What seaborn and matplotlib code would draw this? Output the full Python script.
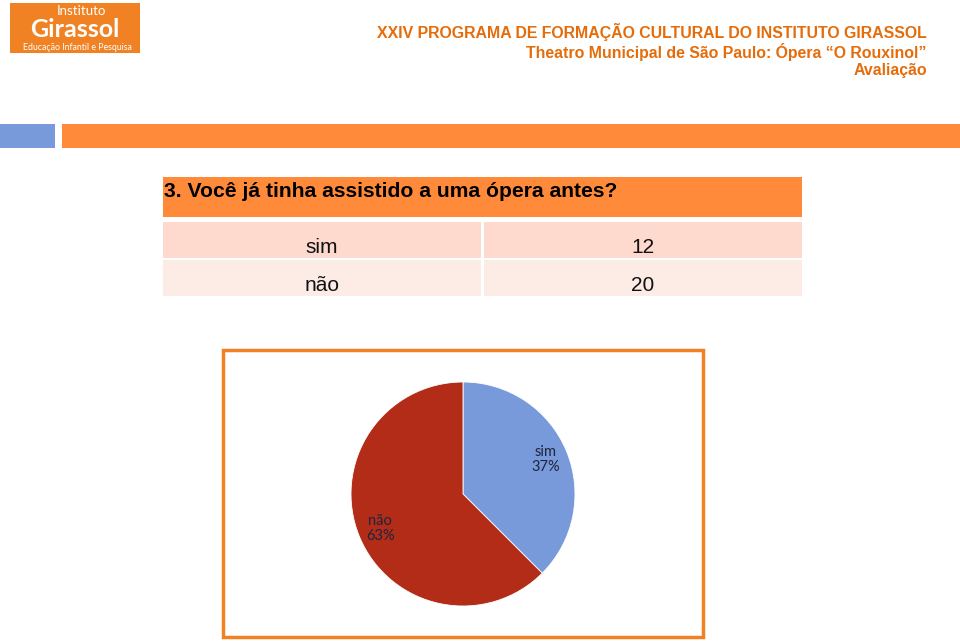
import matplotlib
matplotlib.use("Agg")
import matplotlib.pyplot as plt
from matplotlib.patches import Rectangle
import seaborn as sns

categories = ["sim", "não"]
counts = [12, 20]
percents = [37, 63]
pie_colors = ["#789ADA", "#B22C17"]

sns.set_theme(style="white")
plt.rcParams['font.family'] = ['Liberation Sans', 'DejaVu Sans']

W, H = 960, 641
fig = plt.figure(figsize=(9.6, 6.41), dpi=100)
fig.patch.set_facecolor("white")

def rect(x, y, w, h, **kw):
    fig.patches.append(Rectangle((x / W, 1 - (y + h) / H), w / W, h / H,
                                 transform=fig.transFigure, figure=fig, **kw))

def text(x, y, s, **kw):
    fig.text(x / W, 1 - y / H, s, **kw)

# logo
rect(10, 3, 130, 50, facecolor="#F08224", edgecolor="none")
text(81, 11, "Instituto", color="white", fontsize=9.5, ha="center", va="center",
     family=["Lato", "DejaVu Sans"])
text(75, 29.5, "Girassol", color="white", fontsize=18, ha="center", va="center",
     fontweight="bold", family=["Lato", "DejaVu Sans"])
text(77, 47, "Educação Infantil e Pesquisa", color="white", fontsize=6.3,
     ha="center", va="center", family=["Lato", "DejaVu Sans"])

# header texts
hc = "#E46C0A"
text(927, 32, "XXIV PROGRAMA DE FORMAÇÃO CULTURAL DO INSTITUTO GIRASSOL",
     color=hc, fontsize=11.4, fontweight="bold", ha="right", va="center")
text(927, 52, "Theatro Municipal de São Paulo: Ópera \u201cO Rouxinol\u201d",
     color=hc, fontsize=11.4, fontweight="bold", ha="right", va="center")
text(927, 71, "Avaliação", color=hc, fontsize=11.4, fontweight="bold",
     ha="right", va="center")

# bars
rect(0, 124, 55, 24, facecolor="#789ADA", edgecolor="none")
rect(62, 124, 898, 24, facecolor="#FF8A3A", edgecolor="none")

# table
rect(163, 177, 639, 40, facecolor="#FF8A3A", edgecolor="none")
text(164, 191, "3. Você já tinha assistido a uma ópera antes?", color="black",
     fontsize=15.2, fontweight="bold", ha="left", va="center")
row_cols = ["#FDD9CE", "#FDECE6"]
row_y = [222, 260]
for i, (cat, n) in enumerate(zip(categories, counts)):
    y0 = row_y[i]
    rect(163, y0, 318, 36, facecolor=row_cols[i], edgecolor="none")
    rect(484, y0, 318, 36, facecolor=row_cols[i], edgecolor="none")
    text(322, y0 + 25.5, cat, fontsize=15, ha="center", va="center", color="#111111")
    text(643, y0 + 25.5, str(n), fontsize=15, ha="center", va="center", color="#111111")

# chart frame
rect(223, 350, 480, 287, facecolor="none", edgecolor="#F08224", linewidth=2.5)

# pie
labels = [f"{c}\n{p}%" for c, p in zip(categories, percents)]
ax = fig.add_axes([351 / W, 35 / H, 224 / W, 224 / H])
wedges, texts = ax.pie(counts, colors=pie_colors, startangle=90, counterclock=False,
                       labels=labels, labeldistance=0.8,
                       wedgeprops=dict(edgecolor="white", linewidth=0.6),
                       textprops=dict(fontsize=10.5, color="#1F2440", ha="center",
                                      va="center", family=["Lato", "DejaVu Sans"]))
for t in texts:
    t.set_horizontalalignment("center")
    t.set_linespacing(1.1)
ax.set_xlim(-1, 1)
ax.set_ylim(-1, 1)
ax.set_aspect("equal")
ax.axis("off")

fig.savefig("out.png", dpi=100, facecolor="white")
